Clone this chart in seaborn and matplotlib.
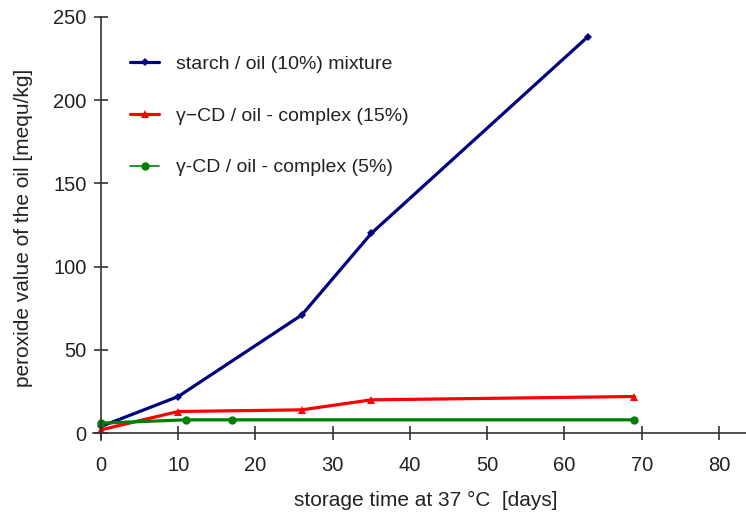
import numpy as np
import pandas as pd
import matplotlib
matplotlib.use('Agg')
import matplotlib.pyplot as plt
import seaborn as sns

# storage data
starch_days = [0, 10, 26, 35, 63]
starch_pv = [4, 22, 71, 120, 238]

cd15_days = [0, 10, 26, 35, 69]
cd15_pv = [2, 13, 14, 20, 22]

cd5_days = [0, 11, 17, 69]
cd5_pv = [6, 8, 8, 8]

labels = ["starch / oil (10%) mixture",
          "\u03b3\u2212CD / oil - complex (15%)",
          "\u03b3-CD / oil - complex (5%)"]

sns.set_style("white")
plt.rcParams['font.family'] = ['Liberation Sans', 'DejaVu Sans']

df = pd.concat([
    pd.DataFrame({'day': starch_days, 'pv': starch_pv, 'series': labels[0]}),
    pd.DataFrame({'day': cd15_days, 'pv': cd15_pv, 'series': labels[1]}),
    pd.DataFrame({'day': cd5_days, 'pv': cd5_pv, 'series': labels[2]}),
])

styles = [
    dict(color='#000080', marker='D', markersize=4, linewidth=2.3),
    dict(color='#ff0000', marker='^', markersize=6, linewidth=2.3),
    dict(color='#008000', marker='o', markersize=6, linewidth=2.3),
]

fig = plt.figure(figsize=(7.46, 5.12), dpi=100)
ax = fig.add_axes([0.125, 0.141, 0.875, 0.826])

for name, st in zip(labels, styles):
    sub = df[df['series'] == name]
    sns.lineplot(data=sub, x='day', y='pv', ax=ax, label=name,
                 markeredgewidth=0, **st)

ax.set_xlim(-1, 83.5)
ax.set_ylim(-4, 250)
ax.set_xticks(np.arange(0, 81, 10))
ax.set_yticks(np.arange(0, 251, 50))

for s in ['top', 'right']:
    ax.spines[s].set_visible(False)
ax.spines['left'].set_position(('data', 0))
ax.spines['bottom'].set_position(('data', 0))
for s in ['left', 'bottom']:
    ax.spines[s].set_color('#333333')
    ax.spines[s].set_linewidth(1.2)

ax.tick_params(axis='both', direction='inout', length=10.5, width=1.2,
               bottom=True, left=True,
               color='#333333', labelsize=14.5, labelcolor='#222222')
ax.tick_params(axis='x', pad=11)
ax.tick_params(axis='y', pad=5)

ax.set_xlabel("storage time at 37 \u00b0C  [days]", fontsize=15, color='#222222')
ax.set_ylabel("peroxide value of the oil [mequ/kg]", fontsize=15, color='#222222')
ax.xaxis.set_label_coords(0.51, -0.12)
ax.yaxis.set_label_coords(-0.092, 0.5)

leg = ax.legend(loc='upper left', bbox_to_anchor=(0.03, 0.95), frameon=False,
                fontsize=14, labelspacing=1.75, handlelength=1.5, handletextpad=0.85)
for t in leg.get_texts():
    t.set_color('#222222')
leg.get_lines()[2].set_linewidth(1.2)

fig.savefig('out.png', dpi=100)
plt.close(fig)
